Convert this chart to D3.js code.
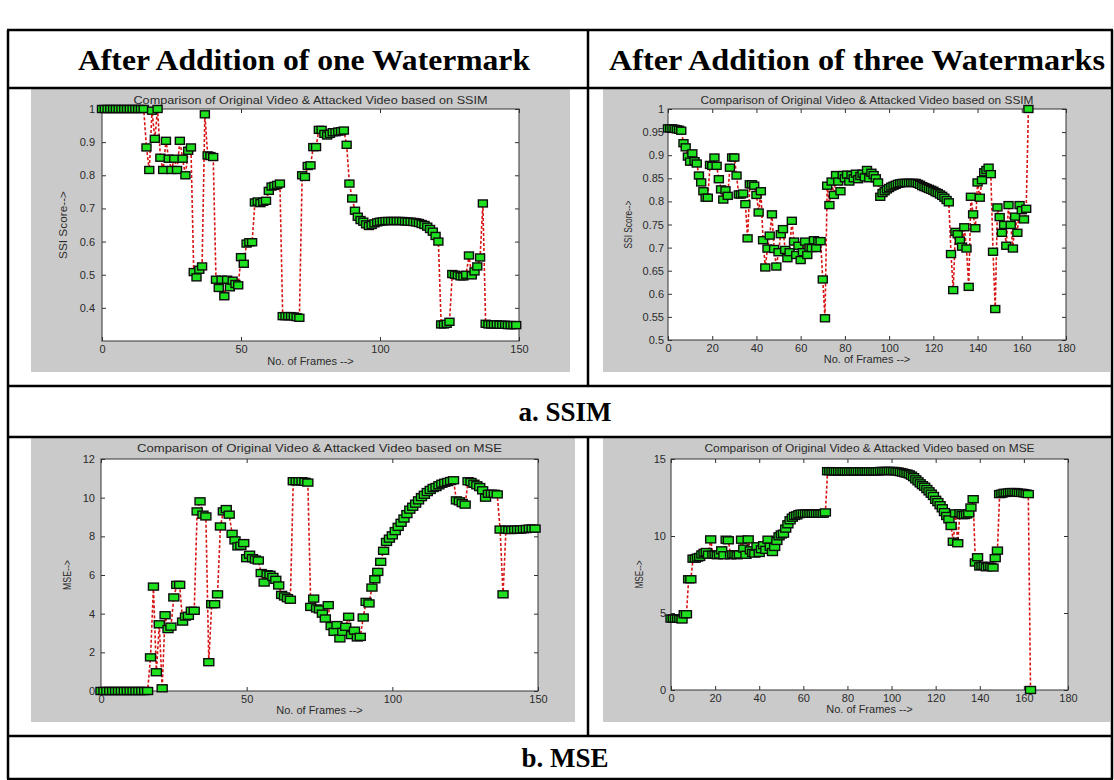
<!DOCTYPE html>
<html>
<head>
<meta charset="utf-8">
<script src="https://cdn.jsdelivr.net/npm/d3@7"></script>
<style>
  body { margin: 0; background: #ffffff; }
  svg { display: block; }
</style>
</head>
<body>
<svg id="chart" width="1114" height="780"></svg>
<script>
// ---- Column headers and row captions ----
const headerLabels = ["After Addition of one Watermark", "After Addition of three Watermarks"];
const rowCaptions = ["a. SSIM", "b. MSE"];

// ---- Per-frame scores (frame index = position in array) ----
const ssimOneWatermark = [
  1, 1, 1, 1, 1, 1, 1, 1, 1, 1,
  1, 1, 1, 1, 1, 1, 0.884, 0.816, 0.995, 0.91,
  1.0, 0.853, 0.816, 0.904, 0.85, 0.816, 0.85, 0.816, 0.904, 0.85,
  0.80, 0.874, 0.884, 0.508, 0.492, 0.515, 0.525, 0.984, 0.86, 0.858,
  0.855, 0.485, 0.46, 0.485, 0.435, 0.485, 0.462, 0.482, 0.472, 0.468,
  0.553, 0.533, 0.594, 0.598, 0.598, 0.718, 0.721, 0.716, 0.72, 0.723,
  0.753, 0.766, 0.768, 0.771, 0.775, 0.375, 0.375, 0.375, 0.375, 0.374,
  0.372, 0.37, 0.80, 0.795, 0.828, 0.83, 0.885, 0.885, 0.937, 0.937,
  0.925, 0.92, 0.925, 0.93, 0.93, 0.932, 0.933, 0.935, 0.892, 0.775,
  0.73, 0.693, 0.675, 0.665, 0.66, 0.652, 0.647, 0.65, 0.655, 0.658,
  0.66, 0.661, 0.662, 0.662, 0.662, 0.662, 0.662, 0.662, 0.662, 0.661,
  0.66, 0.66, 0.659, 0.658, 0.656, 0.653, 0.65, 0.645, 0.638, 0.63,
  0.617, 0.60, 0.35, 0.35, 0.352, 0.358, 0.502, 0.50, 0.498, 0.495,
  0.495, 0.50, 0.558, 0.498, 0.51, 0.525, 0.552, 0.715, 0.352, 0.35,
  0.35, 0.35, 0.35, 0.349, 0.349, 0.349, 0.348, 0.348, 0.348, 0.348
];

const ssimThreeWatermarks = [
  0.958, 0.958, 0.958, 0.957, 0.956, 0.955, 0.953, 0.926, 0.917, 0.897,
  0.886, 0.904, 0.887, 0.882, 0.856, 0.841, 0.822, 0.808, 0.808, 0.879,
  0.877, 0.895, 0.877, 0.848, 0.826, 0.804, 0.824, 0.812, 0.873, 0.895,
  0.895, 0.856, 0.815, 0.815, 0.817, 0.794, 0.72, 0.837, 0.837, 0.834,
  0.814, 0.776, 0.822, 0.716, 0.657, 0.698, 0.726, 0.772, 0.697, 0.659,
  0.69, 0.729, 0.74, 0.695, 0.677, 0.69, 0.758, 0.713, 0.684, 0.704,
  0.673, 0.69, 0.713, 0.684, 0.70, 0.699, 0.716, 0.699, 0.714, 0.714,
  0.631, 0.547, 0.834, 0.792, 0.843, 0.814, 0.857, 0.843, 0.822, 0.857,
  0.85, 0.858, 0.843, 0.857, 0.85, 0.86, 0.848, 0.855, 0.86, 0.852,
  0.868, 0.85, 0.862, 0.857, 0.85, 0.841, 0.81, 0.818, 0.822, 0.826,
  0.829, 0.832, 0.834, 0.836, 0.838, 0.839, 0.84, 0.84, 0.84, 0.84,
  0.84, 0.84, 0.84, 0.838, 0.836, 0.833, 0.831, 0.829, 0.827, 0.825,
  0.823, 0.82, 0.818, 0.815, 0.812, 0.808, 0.803, 0.798, 0.686, 0.608,
  0.734, 0.729, 0.715, 0.702, 0.744, 0.698, 0.615, 0.81, 0.772, 0.742,
  0.841, 0.808, 0.846, 0.863, 0.868, 0.873, 0.859, 0.691, 0.567, 0.787,
  0.766, 0.732, 0.749, 0.704, 0.792, 0.749, 0.698, 0.767, 0.732, 0.792,
  0.781, 0.761, 0.784, 1.0
];

const mseOneWatermark = [
  0, 0, 0, 0, 0, 0, 0, 0, 0, 0,
  0, 0, 0, 0, 0, 0, 0, 1.74, 5.4, 0.97,
  3.45, 0.14, 3.92, 3.2, 3.33, 4.84, 5.49, 5.49, 3.59, 3.85,
  3.89, 4.15, 4.15, 9.29, 9.81, 9.12, 9.03, 1.49, 4.49, 4.49,
  5.0, 8.51, 9.29, 9.41, 9.12, 8.13, 7.79, 7.48, 7.51, 7.65,
  6.87, 7.05, 6.87, 6.8, 6.75, 6.1, 5.61, 6.04, 6.01, 5.9,
  5.75, 5.46, 4.97, 4.89, 4.8, 4.72, 10.85, 10.85, 10.85, 10.85,
  10.82, 10.78, 4.35, 4.78, 4.27, 4.22, 4.0, 3.75, 4.44, 3.36,
  3.06, 3.41, 2.72, 3.06, 3.32, 3.84, 2.89, 3.12, 2.77, 2.8,
  3.8, 4.61, 4.53, 5.35, 5.78, 6.16, 6.68, 7.25, 7.71, 7.88,
  8.05, 8.27, 8.49, 8.7, 8.92, 9.15, 9.38, 9.53, 9.69, 9.86,
  10.03, 10.15, 10.29, 10.4, 10.5, 10.55, 10.64, 10.72, 10.77, 10.81,
  10.86, 10.9, 9.86, 9.81, 9.72, 9.64, 10.85, 10.81, 10.72, 10.64,
  10.55, 10.38, 10.0, 10.2, 10.2, 10.2, 10.17, 8.35, 5.0, 8.35,
  8.33, 8.33, 8.35, 8.35, 8.35, 8.37, 8.38, 8.4, 8.4, 8.4
];

const mseThreeWatermarks = [
  4.64, 4.64, 4.64, 4.64, 4.62, 4.58, 4.92, 4.92, 7.19, 7.19,
  8.53, 8.53, 8.6, 8.64, 8.8, 8.9, 8.96, 8.79, 9.78, 8.79,
  8.79, 8.75, 8.8, 9.07, 8.75, 9.76, 9.72, 8.75, 8.81, 8.8,
  8.75, 8.8, 9.76, 9.18, 8.78, 9.78, 9.07, 8.9, 8.86, 9.33,
  8.9, 9.14, 9.4, 9.1, 9.76, 9.3, 8.96, 9.29, 9.68, 9.98,
  10.1, 10.15, 10.48, 10.76, 11.02, 11.19, 11.3, 11.34, 11.42, 11.45,
  11.45, 11.45, 11.45, 11.45, 11.45, 11.45, 11.45, 11.45, 11.45, 11.45,
  11.53, 14.21, 14.21, 14.2, 14.2, 14.2, 14.2, 14.2, 14.2, 14.2,
  14.2, 14.2, 14.2, 14.2, 14.2, 14.2, 14.2, 14.2, 14.2, 14.2,
  14.2, 14.2, 14.2, 14.2, 14.2, 14.22, 14.22, 14.22, 14.22, 14.22,
  14.22, 14.22, 14.2, 14.18, 14.15, 14.12, 14.08, 14.05, 14.0, 13.92,
  13.82, 13.68, 13.55, 13.42, 13.3, 13.2, 13.05, 12.9, 12.75, 12.6,
  12.35, 12.2, 12.0, 11.8, 11.55, 11.3, 11.08, 10.65, 9.63, 11.47,
  9.53, 11.47, 11.36, 11.36, 11.4, 11.47, 11.85, 12.39, 8.28, 8.62,
  8.02, 8.06, 8.06, 7.97, 8.02, 8.0, 7.95, 8.56, 9.05, 12.72,
  12.75, 12.8, 12.8, 12.82, 12.85, 12.85, 12.85, 12.82, 12.8, 12.8,
  12.78, 12.75, 12.72, 0
];

// ---- Axis ticks ----
const framesTicks150 = [0, 50, 100, 150];
const framesTicks180 = [0, 20, 40, 60, 80, 100, 120, 140, 160, 180];
const ssimOneTicks = [0.4, 0.5, 0.6, 0.7, 0.8, 0.9, 1];
const ssimThreeTicks = [0.5, 0.55, 0.6, 0.65, 0.7, 0.75, 0.8, 0.85, 0.9, 0.95, 1];
const mseOneTicks = [0, 2, 4, 6, 8, 10, 12];
const mseThreeTicks = [0, 5, 10, 15];

const plotTitles = [
  "Comparison of Original Video & Attacked Video based on SSIM",
  "Comparison of Original Video & Attacked Video based on MSE"
];
const xAxisLabel = "No. of Frames -->";
const yAxisLabels = ["SSI Score-->", "MSE-->"];

// ---- Figure panels: placement of each MATLAB-style figure in the table ----
const panels = [
  { values: ssimOneWatermark, fig: [31, 89, 570, 372], axes: [102, 109, 519, 341],
    xDomain: [0, 150], yDomain: [0.3, 1], xTicks: framesTicks150, yTicks: ssimOneTicks,
    title: plotTitles[0], titleW: 354, titleY: 100, yLabel: yAxisLabels[0], yLabelX: 63, yLabelW: 68,
    xLabelY: 361, yPad: 7, marker: [9, 7] },
  { values: ssimThreeWatermarks, fig: [603, 89, 1110, 372], axes: [668, 109, 1066, 340],
    xDomain: [0, 180], yDomain: [0.5, 1], xTicks: framesTicks180, yTicks: ssimThreeTicks,
    title: plotTitles[0], titleW: 333, titleY: 100, yLabel: yAxisLabels[0], yLabelX: 628, yLabelW: 48,
    xLabelY: 359, yPad: 4, marker: [9, 7] },
  { values: mseOneWatermark, fig: [31, 437, 575, 722], axes: [101, 459, 538, 691],
    xDomain: [0, 150], yDomain: [0, 12], xTicks: framesTicks150, yTicks: mseOneTicks,
    title: plotTitles[1], titleW: 365, titleY: 448, yLabel: yAxisLabels[1], yLabelX: 67, yLabelW: 30,
    xLabelY: 710, yPad: 6, marker: [10, 7] },
  { values: mseThreeWatermarks, fig: [603, 437, 1110, 722], axes: [671, 459, 1068, 690],
    xDomain: [0, 180], yDomain: [0, 15], xTicks: framesTicks180, yTicks: mseThreeTicks,
    title: plotTitles[1], titleW: 330, titleY: 448, yLabel: yAxisLabels[1], yLabelX: 639, yLabelW: 28,
    xLabelY: 709, yPad: 5, marker: [10, 7] }
];

const svg = d3.select("#chart");
const sansFont = "'Liberation Sans', Arial, Helvetica, sans-serif";
const serifFont = "'Liberation Serif', 'Times New Roman', serif";

// ---- Draw each figure ----
panels.forEach(p => {
  const [fx0, fy0, fx1, fy1] = p.fig;
  const [ax0, ay0, ax1, ay1] = p.axes;
  const g = svg.append("g");

  // grey figure background
  g.append("rect").attr("x", fx0).attr("y", fy0)
    .attr("width", fx1 - fx0).attr("height", fy1 - fy0)
    .attr("fill", "#cacaca");

  // white plotting area
  g.append("rect").attr("x", ax0).attr("y", ay0)
    .attr("width", ax1 - ax0).attr("height", ay1 - ay0)
    .attr("fill", "#ffffff");

  const x = d3.scaleLinear().domain(p.xDomain).range([ax0, ax1]);
  const y = d3.scaleLinear().domain(p.yDomain).range([ay1, ay0]);
  const fmt = d3.format("~g");

  // axes with inward ticks on all four sides
  const axStyle = sel => {
    sel.select(".domain").remove();
    sel.selectAll("line").attr("stroke", "#333");
    sel.selectAll("text").attr("fill", "#2a2a2a")
      .style("font-family", sansFont).style("font-size", "11px");
  };
  g.append("g").attr("transform", `translate(0,${ay1})`)
    .call(d3.axisBottom(x).tickValues(p.xTicks).tickFormat(fmt).tickSizeInner(-4).tickSizeOuter(0).tickPadding(4))
    .call(axStyle);
  g.append("g").attr("transform", `translate(0,${ay0})`)
    .call(d3.axisTop(x).tickValues(p.xTicks).tickFormat("").tickSizeInner(-4).tickSizeOuter(0))
    .call(axStyle);
  g.append("g").attr("transform", `translate(${ax0},0)`)
    .call(d3.axisLeft(y).tickValues(p.yTicks).tickFormat(fmt).tickSizeInner(-4).tickSizeOuter(0).tickPadding(p.yPad))
    .call(axStyle);
  g.append("g").attr("transform", `translate(${ax1},0)`)
    .call(d3.axisRight(y).tickValues(p.yTicks).tickFormat("").tickSizeInner(-4).tickSizeOuter(0))
    .call(axStyle);

  // axes box
  g.append("rect").attr("x", ax0).attr("y", ay0)
    .attr("width", ax1 - ax0).attr("height", ay1 - ay0)
    .attr("fill", "none").attr("stroke", "#333").attr("stroke-width", 1);

  // title and axis labels
  const cx = (ax0 + ax1) / 2;
  g.append("text").attr("x", cx).attr("y", p.titleY).attr("dy", "0.35em")
    .attr("text-anchor", "middle").attr("fill", "#2a2a2a")
    .attr("textLength", p.titleW).attr("lengthAdjust", "spacingAndGlyphs")
    .style("font-family", sansFont).style("font-size", "11px")
    .text(p.title);
  g.append("text").attr("x", cx).attr("y", p.xLabelY).attr("dy", "0.35em")
    .attr("text-anchor", "middle").attr("fill", "#2a2a2a")
    .style("font-family", sansFont).style("font-size", "11px")
    .text(xAxisLabel);
  g.append("text")
    .attr("transform", `translate(${p.yLabelX},${(ay0 + ay1) / 2}) rotate(-90)`)
    .attr("dy", "0.35em").attr("text-anchor", "middle").attr("fill", "#2a2a2a")
    .attr("textLength", p.yLabelW).attr("lengthAdjust", "spacingAndGlyphs")
    .style("font-family", sansFont).style("font-size", "10.5px")
    .text(p.yLabel);

  // dashed red connecting line
  const pts = p.values.map((v, i) => [i, v]);
  const line = d3.line().x(d => x(d[0])).y(d => y(d[1]));
  g.append("path").datum(pts).attr("d", line)
    .attr("fill", "none").attr("stroke", "#d81414")
    .attr("stroke-width", 1.6).attr("stroke-dasharray", "3,2");

  // square markers
  const [mw, mh] = p.marker;
  g.append("g").selectAll("rect").data(pts).join("rect")
    .attr("x", d => x(d[0]) - mw / 2).attr("y", d => y(d[1]) - mh / 2)
    .attr("width", mw).attr("height", mh)
    .attr("fill", "#1fe01f").attr("stroke", "#0d0d0d").attr("stroke-width", 1.4);
});

// ---- Table grid ----
const grid = svg.append("g").attr("stroke", "#000").attr("stroke-width", 2.5);
const tableX0 = 8, tableX1 = 1112, colX = 588;
const rowY = [30, 88, 386, 437, 736, 779];
rowY.forEach(yv => grid.append("line").attr("x1", tableX0 - 1).attr("x2", tableX1 + 1).attr("y1", yv).attr("y2", yv));
grid.append("line").attr("x1", tableX0).attr("x2", tableX0).attr("y1", rowY[0]).attr("y2", rowY[5]);
grid.append("line").attr("x1", tableX1).attr("x2", tableX1).attr("y1", rowY[0]).attr("y2", rowY[5]);
[[rowY[0], rowY[2]], [rowY[3], rowY[4]]].forEach(([a, b]) =>
  grid.append("line").attr("x1", colX).attr("x2", colX).attr("y1", a).attr("y2", b));

// header labels
const headerWidths = [452, 496];
headerLabels.forEach((t, i) => {
  const cx = i === 0 ? (tableX0 + colX) / 2 + 6 : (colX + tableX1) / 2 + 7;
  svg.append("text").attr("x", cx).attr("y", (rowY[0] + rowY[1]) / 2).attr("dy", "0.35em")
    .attr("text-anchor", "middle").attr("fill", "#000")
    .attr("textLength", headerWidths[i]).attr("lengthAdjust", "spacingAndGlyphs")
    .style("font-family", serifFont).style("font-weight", "bold").style("font-size", "30px")
    .text(t);
});

// row captions
[[rowY[2], rowY[3]], [rowY[4], rowY[5]]].forEach(([a, b], i) => {
  svg.append("text").attr("x", (tableX0 + tableX1) / 2 + 5).attr("y", (a + b) / 2).attr("dy", "0.35em")
    .attr("text-anchor", "middle").attr("fill", "#000")
    .style("font-family", serifFont).style("font-weight", "bold").style("font-size", "27px")
    .text(rowCaptions[i]);
});
</script>
</body>
</html>
